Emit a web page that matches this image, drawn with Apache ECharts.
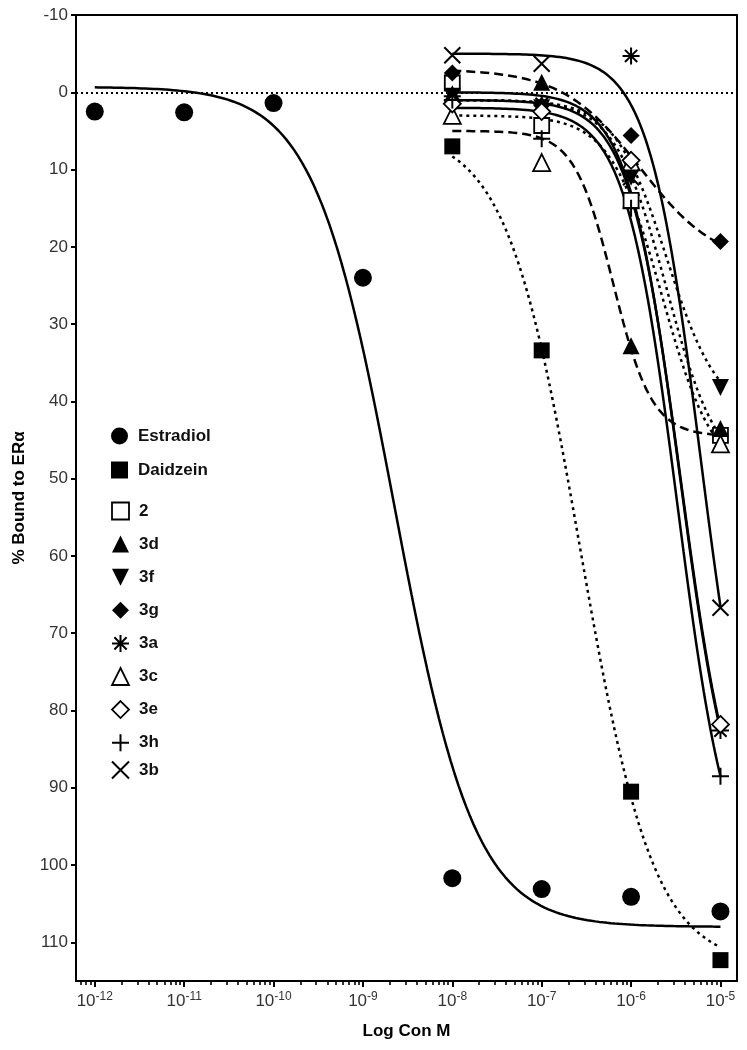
<!DOCTYPE html>
<html>
<head>
<meta charset="utf-8">
<script src="https://cdn.jsdelivr.net/npm/echarts@6/dist/echarts.min.js"></script>
<style>
  html, body { margin: 0; padding: 0; background: #fff; }
  #chart { width: 747px; height: 1050px; }
</style>
</head>
<body>
<div id="chart"></div>
<script>
// ---- Data (log10 molar concentration vs % bound to ERα) ----
const estradiolConc = [-12, -11, -10, -9, -8, -7, -6, -5];
const compoundConc = [-8, -7, -6, -5];
const xTickExponents = [-12, -11, -10, -9, -8, -7, -6, -5];
const yTickLabels = [-10, 0, 10, 20, 30, 40, 50, 60, 70, 80, 90, 100, 110];

const estradiol = [2.5, 2.6, 1.4, 24.0, 101.7, 103.1, 104.1, 106.0];
const daidzein = [7.0, 33.4, 90.5, 112.3];
const c2  = [-1.2, 4.3, 14.0, 44.4];
const c3d = [0.2, -1.3, 32.8, 43.5];
const c3f = [0.5, 2.0, 11.0, 38.2];
const c3g = [-2.5, 1.7, 5.6, 19.3];
const c3a = [0.5, 1.5, -4.7, 82.6];
const c3c = [3.0, 9.1, 9.0, 45.5];
const c3e = [1.5, 2.5, 8.8, 81.8];
const c3h = [1.0, 6.0, 15.0, 88.5];
const c3b = [-4.8, -3.7, 11.0, 66.7];

// Fitted sigmoid parameters: [top, bottom, logIC50, hill slope]
const fitEstradiol = [-0.7, 108.0, -8.646, 0.97];
const fitDaidzein  = [5.0, 113.0, -6.57, 1.05];
const fit2   = [1.0, 50.0, -5.6, 1.5];
const fit3d  = [5.0, 44.5, -6.2, 2.0];
const fit3f  = [1.0, 42.0, -5.6, 1.5];
const fit3g  = [-3.0, 22.5, -5.9, 1.0];
const fit3a  = [0.0, 100.0, -5.45, 1.5];
const fit3c  = [3.0, 50.0, -5.65, 1.5];
const fit3e  = [1.0, 100.0, -5.44, 1.5];
const fit3h  = [2.0, 105.0, -5.48, 1.5];
const fit3b  = [-5.0, 100.0, -5.22, 1.5];

// ---- helpers ----
function hill(p, x) {
  const top = p[0], bottom = p[1], ic = p[2], h = p[3];
  return top + (bottom - top) / (1 + Math.pow(10, (ic - x) * h));
}
function curve(p, x0, x1) {
  const pts = [];
  const n = 160;
  for (let i = 0; i <= n; i++) {
    const x = x0 + (x1 - x0) * i / n;
    pts.push([x, hill(p, x)]);
  }
  return pts;
}
function pairs(xs, ys) { return xs.map((x, i) => [x, ys[i]]); }

const minorTicks = [];
for (let d = -13; d <= -6; d++) {
  for (let k = 2; k <= 9; k++) {
    const v = d + Math.log10(k);
    if (v > -12.21 && v < -4.815) minorTicks.push(v);
  }
}

const FONT = 'Liberation Sans, Arial, sans-serif';
const P_ASTER = 'path://M0,-1L0,1M-1,0L1,0M-0.72,-0.72L0.72,0.72M-0.72,0.72L0.72,-0.72';
const P_PLUS = 'path://M0,-1L0,1M-1,0L1,0';
const P_X = 'path://M-1,-1L1,1M-1,1L1,-1';
const P_DOWN = 'path://M-1,-1L1,-1L0,1Z';

const filled = { color: '#000', borderColor: '#000', borderWidth: 0, opacity: 1 };
const open = { color: '#fff', borderColor: '#000', borderWidth: 1.8, opacity: 1 };
const stroke = { color: '#000', borderColor: '#000', borderWidth: 2, opacity: 1 };

const SOLID = 'solid', DASH = [9, 5], DOT = [3, 4];

const compounds = [
  { name: 'Estradiol', xs: estradiolConc, ys: estradiol, fit: fitEstradiol, range: [-12, -5], symbol: 'circle', size: 18, style: filled, line: SOLID },
  { name: 'Daidzein', xs: compoundConc, ys: daidzein, fit: fitDaidzein, range: [-8, -5], symbol: 'rect', size: 16, style: filled, line: DOT },
  { name: '2',   xs: compoundConc, ys: c2,  fit: fit2,  range: [-8, -5], symbol: 'rect', size: 15, style: open, line: DOT },
  { name: '3d',  xs: compoundConc, ys: c3d, fit: fit3d, range: [-8, -5], symbol: 'triangle', size: 17, style: filled, line: DASH },
  { name: '3f',  xs: compoundConc, ys: c3f, fit: fit3f, range: [-8, -5], symbol: P_DOWN, size: 17, style: filled, line: DOT },
  { name: '3g',  xs: compoundConc, ys: c3g, fit: fit3g, range: [-8, -5], symbol: 'diamond', size: 17, style: filled, line: DASH },
  { name: '3a',  xs: compoundConc, ys: c3a, fit: fit3a, range: [-8, -5], symbol: P_ASTER, size: 17, style: stroke, line: SOLID },
  { name: '3c',  xs: compoundConc, ys: c3c, fit: fit3c, range: [-8, -5], symbol: 'triangle', size: 17, style: open, line: DOT },
  { name: '3e',  xs: compoundConc, ys: c3e, fit: fit3e, range: [-8, -5], symbol: 'diamond', size: 17, style: open, line: SOLID },
  { name: '3h',  xs: compoundConc, ys: c3h, fit: fit3h, range: [-8, -5], symbol: P_PLUS, size: 17, style: stroke, line: SOLID },
  { name: '3b',  xs: compoundConc, ys: c3b, fit: fit3b, range: [-8, -5], symbol: P_X, size: 16, style: stroke, line: SOLID }
];

const series = [];
compounds.forEach((c, i) => {
  const s = {
    name: c.name + ' fit',
    type: 'line',
    data: curve(c.fit, c.range[0], c.range[1]),
    showSymbol: false,
    symbol: 'none',
    silent: true,
    z: 2,
    lineStyle: { color: '#000', width: 2.5, type: c.line, cap: 'butt', opacity: 1 }
  };
  if (i === 0) {
    s.markLine = {
      silent: true,
      symbol: 'none',
      label: { show: false },
      lineStyle: { color: '#000', width: 2, type: [2, 3], opacity: 1 },
      data: [{ yAxis: 0 }]
    };
  }
  series.push(s);
});
compounds.forEach(c => {
  series.push({
    name: c.name,
    type: 'scatter',
    data: pairs(c.xs, c.ys),
    symbol: c.symbol,
    symbolSize: c.size,
    itemStyle: Object.assign({}, c.style),
    z: 5
  });
});

function legendItem(c) {
  return { name: c.name, icon: c.symbol, itemStyle: Object.assign({}, c.style) };
}
const legendBase = {
  orient: 'vertical',
  left: 106,
  itemWidth: 17,
  itemHeight: 17,
  selectedMode: false,
  textStyle: { fontFamily: FONT, fontWeight: 'bold', fontSize: 17, color: '#111', lineHeight: 20, padding: [0, 0, 0, 5] }
};

const chart = echarts.init(document.getElementById('chart'), null, { renderer: 'canvas' });
chart.setOption({
  animation: false,
  backgroundColor: '#fff',
  grid: { left: 76, right: 10, top: 15, bottom: 69, show: true, borderColor: '#000', borderWidth: 2, containLabel: false },
  legend: [
    Object.assign({}, legendBase, { top: 421, itemGap: 14, data: compounds.slice(0, 2).map(legendItem) }),
    Object.assign({}, legendBase, { top: 496, itemGap: 13.1, data: compounds.slice(2, 10).map(legendItem) }),
    Object.assign({}, legendBase, { top: 755, itemGap: 10, data: compounds.slice(10).map(legendItem) })
  ],
  xAxis: [
    {
      type: 'value', min: -12.21, max: -4.815, position: 'bottom',
      name: 'Log Con M', nameLocation: 'middle', nameGap: 42,
      nameTextStyle: { fontFamily: FONT, fontWeight: 'bold', fontSize: 17, color: '#000' },
      axisLine: { show: true, onZero: false, lineStyle: { color: '#000', width: 2 } },
      axisTick: { show: true, length: 6, lineStyle: { color: '#000', width: 2 }, customValues: xTickExponents },
      splitLine: { show: false },
      axisLabel: {
        margin: 10,
        customValues: xTickExponents,
        formatter: v => '{a|10}{b|' + Math.round(v) + '}',
        rich: {
          a: { fontFamily: FONT, fontSize: 17, color: '#333', lineHeight: 20 },
          b: { fontFamily: FONT, fontSize: 12, color: '#333', lineHeight: 12, verticalAlign: 'top' }
        }
      }
    },
    {
      type: 'value', min: -12.21, max: -4.815, position: 'bottom',
      axisLine: { show: false, onZero: false },
      axisLabel: { show: false },
      splitLine: { show: false },
      axisTick: { show: true, length: 4, lineStyle: { color: '#000', width: 1.6 }, customValues: minorTicks }
    }
  ],
  yAxis: {
    type: 'value', inverse: true, min: -10, max: 115, interval: 10,
    name: '% Bound to ERα', nameLocation: 'middle', nameGap: 48,
    nameTextStyle: { fontFamily: FONT, fontWeight: 'bold', fontSize: 17, color: '#000' },
    axisLine: { show: true, onZero: false, lineStyle: { color: '#000', width: 2 } },
    axisTick: { show: true, length: 5, lineStyle: { color: '#000', width: 2 }, customValues: yTickLabels },
    splitLine: { show: false },
    axisLabel: { customValues: yTickLabels, margin: 8, fontFamily: FONT, fontSize: 17, color: '#333' }
  },
  series: series
});
</script>
</body>
</html>
